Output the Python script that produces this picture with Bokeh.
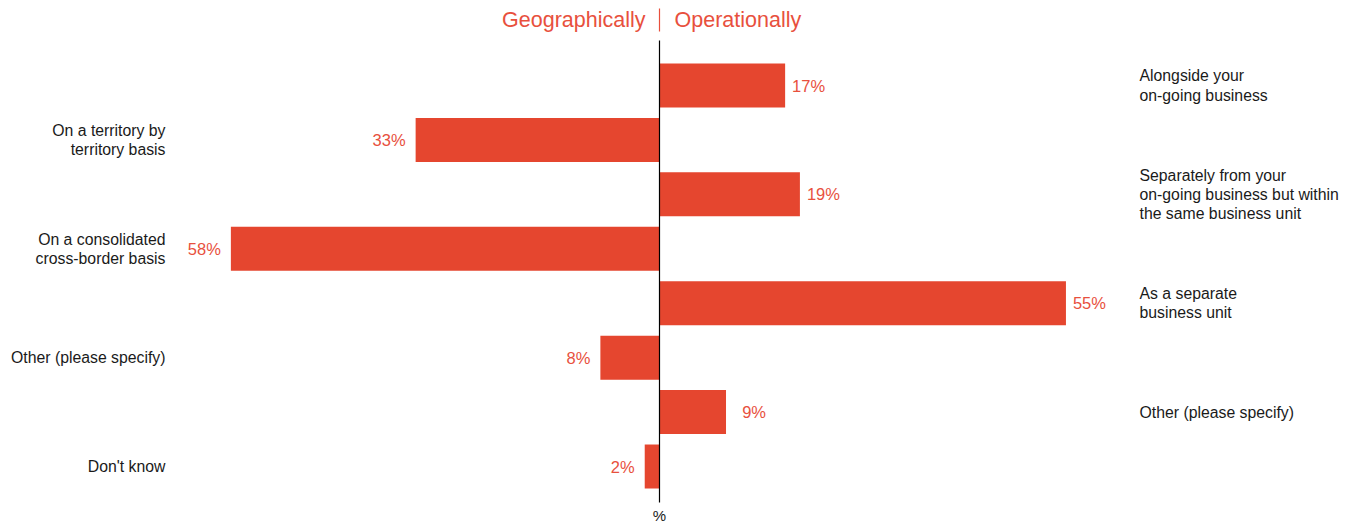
from bokeh.plotting import figure
from bokeh.models import Range1d, ColumnDataSource
from bokeh.core.properties import value
from bokeh.embed import file_html
from bokeh.resources import INLINE

# ---- data ----
geo_labels = ["On a territory by\nterritory basis", "On a consolidated\ncross-border basis",
              "Other (please specify)", "Don't know"]
geo_values = [33, 58, 8, 2]
op_labels = ["Alongside your\non-going business",
             "Separately from your\non-going business but within\nthe same business unit",
             "As a separate\nbusiness unit", "Other (please specify)"]
op_values = [17, 19, 55, 9]
title_left = "Geographically"
title_right = "Operationally"
axis_label = "%"

# ---- layout ----
W, H = 1359, 525
X0 = 659          # pixel of zero
S = 7.39          # pixels per percent
Y0 = 85           # pixel of first row centre
DY = 54.43        # pixels per row
RED = "#E5462F"
TXT_RED = "#E8503D"
DARK = "#1a1a1a"
FONT = "Liberation Sans"
FS = "15.8px"

op_rows = [0, 2, 4, 6]
geo_rows = [1, 3, 5, 7]

p = figure(width=W, height=H, output_backend="svg", toolbar_location=None,
           x_range=Range1d(-X0 / S, (W - X0) / S),
           y_range=Range1d((H - Y0) / DY, -Y0 / DY),
           min_border=0, outline_line_color=None)
p.axis.visible = False
p.grid.visible = False
p.background_fill_color = "white"
p.border_fill_color = "white"

bh = 44 / DY
geo_src = ColumnDataSource(dict(y=geo_rows, v=[-v for v in geo_values],
                                lab=geo_labels, txt=[f"{v}%" for v in geo_values]))
op_src = ColumnDataSource(dict(y=op_rows, v=op_values,
                               lab=op_labels, txt=[f"{v}%" for v in op_values]))

p.hbar(y="y", left=0, right="v", height=bh, color=RED, line_color=None, source=geo_src)
p.hbar(y="y", left=0, right="v", height=bh, color=RED, line_color=None, source=op_src)

# value labels
p.text(x="v", y="y", text="txt", source=geo_src, x_offset=-10, text_align="right",
       text_baseline="middle", text_font=value(FONT), text_font_size="16.5px", text_color=TXT_RED)
p.text(x="v", y="y", text="txt", source=op_src, x_offset=40, text_align="right",
       text_baseline="middle", text_font=value(FONT), text_font_size="16.5px", text_color=TXT_RED)

# category labels
p.text(x=-(X0 - 165) / S, y="y", text="lab", source=geo_src, text_align="right",
       text_baseline="middle", text_font=value(FONT), text_font_size=FS,
       text_color=DARK, text_line_height=1.13)
p.text(x=(1139 - X0) / S, y="y", text="lab", source=op_src, text_align="left",
       text_baseline="middle", text_font=value(FONT), text_font_size=FS,
       text_color=DARK, text_line_height=1.13)

# zero line
p.segment(x0=0, y0=(40 - Y0) / DY, x1=0, y1=(502 - Y0) / DY, line_color="black", line_width=1.2)

# titles
ty = (19 - Y0) / DY
p.text(x=[0], y=[ty], text=[title_left], x_offset=-14, text_align="right", text_baseline="middle",
       text_font=value(FONT), text_font_size="21.5px", text_color=TXT_RED)
p.text(x=[0], y=[ty], text=[title_right], x_offset=15, text_align="left", text_baseline="middle",
       text_font=value(FONT), text_font_size="21.5px", text_color=TXT_RED)
p.segment(x0=0, y0=(8 - Y0) / DY, x1=0, y1=(31 - Y0) / DY, line_color=TXT_RED, line_width=1.2)

p.text(x=[0], y=[(515 - Y0) / DY], text=[axis_label], text_align="center", text_baseline="middle",
       text_font=value(FONT), text_font_size="15px", text_color=DARK)

open("out.html", "w").write(file_html(p, INLINE))
